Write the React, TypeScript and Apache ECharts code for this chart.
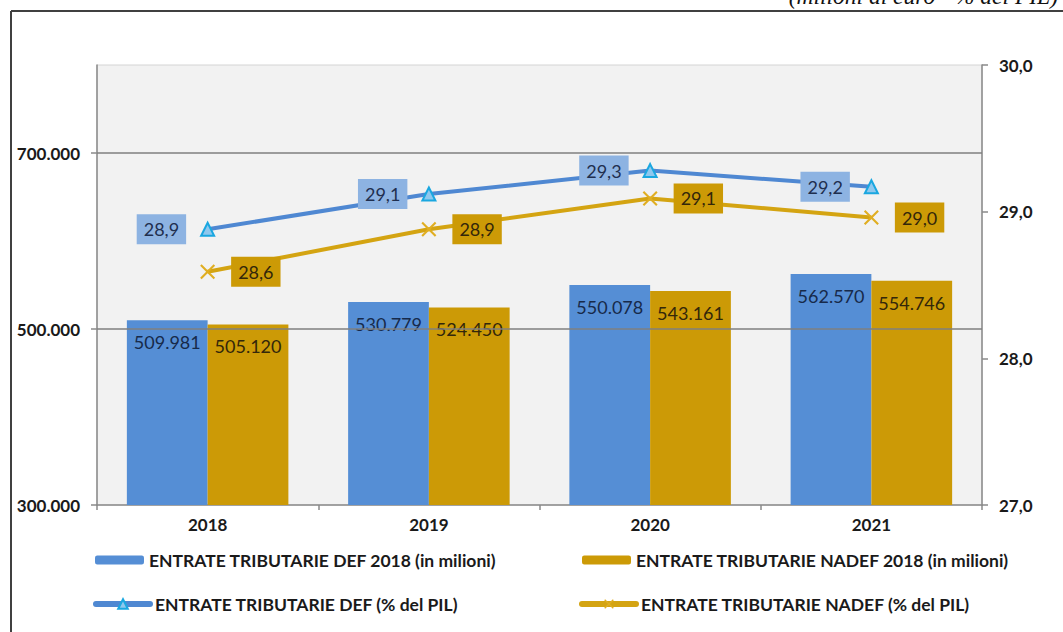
import React, { useEffect, useRef } from "react";
import * as echarts from "echarts";

const years = ["2018", "2019", "2020", "2021"];
const defMilioni = [509981, 530779, 550078, 562570];
const nadefMilioni = [505120, 524450, 543161, 554746];
const defPil = [28.88, 29.12, 29.28, 29.17];
const nadefPil = [28.59, 28.88, 29.09, 28.96];
const leftTicks = [300000, 500000, 700000];
const gridValues = [500000, 700000];

const nameDefBar = "ENTRATE TRIBUTARIE DEF 2018 (in milioni)";
const nameNadefBar = "ENTRATE TRIBUTARIE NADEF 2018 (in milioni)";
const nameDefLine = "ENTRATE TRIBUTARIE DEF (% del PIL)";
const nameNadefLine = "ENTRATE TRIBUTARIE NADEF (% del PIL)";
const headerText = "(milioni di euro - % del PIL)";

const FONT = "Lato, 'Open Sans', sans-serif";
const thousands = (v: number) => String(Math.round(v)).replace(/\B(?=(\d{3})+(?!\d))/g, ".");
const pct = (v: number) => v.toFixed(1).replace(".", ",");

const xSymbol =
  "path://M0,1 L1,0 L5,4 L9,0 L10,1 L6,5 L10,9 L9,10 L5,6 L1,10 L0,9 L4,5 Z";

export default function App() {
  const ref = useRef<HTMLDivElement>(null);
  useEffect(() => {
    if (!ref.current) return;
    const chart = echarts.init(ref.current, undefined, { renderer: "svg" });
    const legendText = { fontFamily: FONT, fontWeight: "bold", fontSize: 17.5, color: "#1a1a1a" };
    const axisText = { fontFamily: FONT, fontWeight: "bold", fontSize: 17, color: "#1a1a1a" };
    chart.setOption({
      animation: false,
      backgroundColor: "#ffffff",
      graphic: [
        { type: "line", shape: { x1: 11, y1: 11, x2: 1063, y2: 11 }, style: { stroke: "#404040", lineWidth: 2 } },
        { type: "line", shape: { x1: 11, y1: 11, x2: 11, y2: 632 }, style: { stroke: "#404040", lineWidth: 2 } },
        {
          type: "text",
          right: 5,
          top: -16,
          style: {
            text: headerText,
            font: "italic 23.5px 'Liberation Serif', 'DejaVu Serif', serif",
            fill: "#111",
          },
        },
      ],
      grid: {
        left: 97,
        right: 81,
        top: 65,
        bottom: 127,
        show: true,
        backgroundColor: "#f2f2f2",
        borderColor: "#d4d4d4",
        borderWidth: 1,
      },
      legend: [
        { data: [nameDefBar], left: 90, top: 546, itemWidth: 49, itemHeight: 9, itemGap: 6, textStyle: legendText, selectedMode: false },
        { data: [nameNadefBar], left: 577, top: 546, itemWidth: 49, itemHeight: 9, textStyle: legendText, selectedMode: false },
        {
          data: [nameDefLine], left: 88, top: 590, itemWidth: 54, itemHeight: 12, textStyle: legendText, selectedMode: false,
          lineStyle: { width: 6, cap: "round" },
        },
        {
          data: [nameNadefLine], left: 574, top: 590, itemWidth: 54, itemHeight: 12, textStyle: legendText, selectedMode: false,
          lineStyle: { width: 6, cap: "round" },
        },
      ],
      xAxis: {
        type: "category",
        data: years,
        axisLine: { lineStyle: { color: "#8a8a8a", width: 1.5 } },
        axisTick: { show: true, length: 5, lineStyle: { color: "#8a8a8a", width: 1.5 } },
        axisLabel: { ...axisText, margin: 11 },
      },
      yAxis: [
        {
          type: "value",
          min: 300000,
          max: 800000,
          interval: 100000,
          axisLine: { show: true, lineStyle: { color: "#8a8a8a", width: 1.5 } },
          axisTick: { show: true, length: 6, customValues: leftTicks, lineStyle: { color: "#8a8a8a", width: 1.5 } },
          splitLine: { show: false },
          axisLabel: {
            ...axisText,
            customValues: leftTicks,
            margin: 17,
            formatter: (v: number) => (leftTicks.indexOf(v) >= 0 ? thousands(v) : ""),
          },
        },
        {
          type: "value",
          min: 27,
          max: 30,
          interval: 1,
          position: "right",
          axisLine: { show: true, lineStyle: { color: "#8a8a8a", width: 1.5 } },
          axisTick: { show: true, length: 6, lineStyle: { color: "#8a8a8a", width: 1.5 } },
          splitLine: { show: false },
          axisLabel: {
            ...axisText,
            margin: 17,
            formatter: (v: number) => pct(v),
          },
        },
      ],
      series: [
        {
          type: "line",
          name: "grid",
          yAxisIndex: 0,
          data: [],
          z: 0,
          silent: true,
          markLine: {
            silent: true,
            symbol: "none",
            label: { show: false },
            lineStyle: { color: "#7f7f7f", width: 1.5, type: "solid" },
            data: gridValues.map((v) => ({ yAxis: v })),
          },
        },
        {
          type: "bar",
          name: nameDefBar,
          data: defMilioni,
          yAxisIndex: 0,
          barGap: "0%",
          barCategoryGap: "27%",
          z: 2,
          itemStyle: { color: "#558ed5" },
          label: {
            show: true,
            position: "insideTop",
            distance: 13,
            fontFamily: FONT,
            fontSize: 18,
            color: "#172a4a",
            formatter: (p: any) => thousands(p.value),
          },
        },
        {
          type: "bar",
          name: nameNadefBar,
          data: nadefMilioni,
          yAxisIndex: 0,
          z: 2,
          itemStyle: { color: "#cc9a06" },
          label: {
            show: true,
            position: "insideTop",
            distance: 13,
            fontFamily: FONT,
            fontSize: 18,
            color: "#33270a",
            formatter: (p: any) => thousands(p.value),
          },
        },
        {
          type: "line",
          name: nameDefLine,
          data: defPil,
          yAxisIndex: 1,
          z: 4,
          symbol: "triangle",
          symbolSize: 13,
          lineStyle: { color: "#4f88d2", width: 4 },
          itemStyle: { color: "#8fc8ee", borderColor: "#1aa7e0", borderWidth: 2 },
          label: {
            show: true,
            position: "left",
            distance: 14,
            backgroundColor: "#8db3e2",
            padding: [6, 7, 6, 7],
            fontFamily: FONT,
            fontSize: 18,
            color: "#1f2f4f",
            formatter: (p: any) => pct(p.value),
          },
        },
        {
          type: "line",
          name: nameNadefLine,
          data: nadefPil,
          yAxisIndex: 1,
          z: 4,
          symbol: xSymbol,
          symbolSize: 15,
          lineStyle: { color: "#d4a412", width: 4 },
          itemStyle: { color: "#e0ae22" },
          label: {
            show: true,
            position: "right",
            distance: 16,
            backgroundColor: "#cc9a06",
            padding: [6, 7, 6, 7],
            fontFamily: FONT,
            fontSize: 18,
            color: "#33270a",
            formatter: (p: any) => pct(p.value),
          },
        },
      ],
    });
    return () => chart.dispose();
  }, []);
  return (
    <div
      ref={ref}
      style={{ position: "fixed", left: 0, top: 0, width: 1063, height: 632 }}
    />
  );
}
